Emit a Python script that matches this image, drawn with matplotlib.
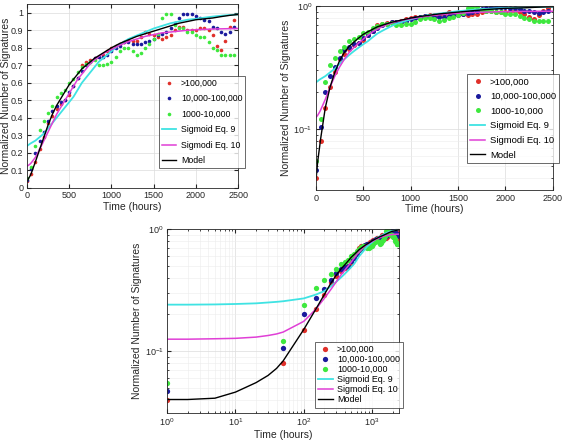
import numpy as np
import matplotlib
matplotlib.use('Agg')
import matplotlib.pyplot as plt

plt.rcParams['font.family'] = ['Liberation Sans', 'DejaVu Sans']

# sample times (hours); first sample drawn at 1 so it shows on log axis
t_pts = [1] + list(range(50, 2451, 50))

big = [0.04, 0.08, 0.15, 0.22, 0.29, 0.37, 0.41, 0.45, 0.48, 0.50,
       0.53, 0.58, 0.63, 0.70, 0.72, 0.73, 0.74, 0.75, 0.76, 0.78,
       0.80, 0.81, 0.82, 0.83, 0.84, 0.84, 0.84, 0.86, 0.89, 0.88,
       0.87, 0.86, 0.85, 0.86, 0.87, 0.90, 0.92, 0.92, 0.90, 0.90,
       0.90, 0.91, 0.91, 0.90, 0.87, 0.81, 0.79, 0.84, 0.92, 0.96]
mid = [0.047, 0.105, 0.20, 0.27, 0.32, 0.38, 0.44, 0.47, 0.49, 0.50,
       0.55, 0.58, 0.63, 0.67, 0.70, 0.72, 0.74, 0.75, 0.75, 0.76,
       0.78, 0.80, 0.81, 0.83, 0.83, 0.82, 0.82, 0.82, 0.83, 0.84,
       0.85, 0.87, 0.88, 0.89, 0.91, 0.94, 0.97, 0.99, 0.99, 0.99,
       0.98, 0.97, 0.96, 0.95, 0.92, 0.91, 0.89, 0.88, 0.89, 0.92]
small = [0.055, 0.12, 0.24, 0.33, 0.38, 0.43, 0.47, 0.52, 0.54, 0.56,
         0.60, 0.62, 0.66, 0.69, 0.71, 0.72, 0.73, 0.70, 0.70, 0.71,
         0.72, 0.75, 0.78, 0.80, 0.80, 0.78, 0.76, 0.77, 0.80, 0.82,
         0.85, 0.88, 0.97, 0.99, 0.99, 0.93, 0.91, 0.91, 0.89, 0.89,
         0.87, 0.86, 0.86, 0.83, 0.80, 0.79, 0.76, 0.76, 0.76, 0.76]

t_line = [1, 2, 5, 10, 20, 30, 40] + list(range(50, 1001, 50)) + list(range(1100, 2501, 100))
model = [0.040, 0.040, 0.041, 0.046, 0.055, 0.063, 0.072,
         0.083, 0.15, 0.22, 0.29, 0.36, 0.42, 0.47, 0.51, 0.55, 0.59,
         0.62, 0.65, 0.68, 0.70, 0.72, 0.74, 0.755, 0.77, 0.785, 0.80,
         0.825, 0.845, 0.865, 0.88, 0.895, 0.91, 0.925, 0.94, 0.95, 0.96,
         0.965, 0.97, 0.978, 0.985, 0.99]
sig9 = [0.24, 0.24, 0.241, 0.243, 0.246, 0.25, 0.253,
        0.256, 0.27, 0.29, 0.31, 0.34, 0.37, 0.40, 0.43, 0.46, 0.49,
        0.52, 0.56, 0.60, 0.63, 0.66, 0.69, 0.72, 0.74, 0.76, 0.78,
        0.82, 0.85, 0.87, 0.89, 0.91, 0.925, 0.94, 0.95, 0.96, 0.965,
        0.972, 0.978, 0.983, 0.987, 0.99]
sig10 = [0.125, 0.125, 0.126, 0.127, 0.13, 0.134, 0.138,
         0.143, 0.175, 0.22, 0.27, 0.32, 0.37, 0.42, 0.46, 0.50, 0.54,
         0.58, 0.62, 0.65, 0.68, 0.71, 0.73, 0.75, 0.765, 0.78, 0.79,
         0.815, 0.835, 0.85, 0.865, 0.875, 0.885, 0.89, 0.895, 0.90, 0.903,
         0.905, 0.907, 0.908, 0.909, 0.91]

c_red = '#e0302a'
c_blue = '#1a1a9c'
c_green = '#3ee83e'
c_cyan = '#3fe3e3'
c_mag = '#e03fd6'

fig = plt.figure(figsize=(5.63, 4.41), dpi=100)

def draw(ax, ms, leg_fs, leg_anchor, leg_space, lpad=2):
    ax.plot(t_pts, big, 'o', ms=ms, mew=0, color=c_red, label='>100,000')
    ax.plot(t_pts, mid, 'o', ms=ms, mew=0, color=c_blue, label='10,000-100,000')
    ax.plot(t_pts, small, 'o', ms=ms, mew=0, color=c_green, label='1000-10,000')
    ax.plot(t_line, sig9, '-', lw=1.3, color=c_cyan, label='Sigmoid Eq. 9')
    ax.plot(t_line, sig10, '-', lw=1.1, color=c_mag, label='Sigmodi Eq. 10')
    ax.plot(t_line, model, '-', lw=1.0, color='black', label='Model')
    ax.tick_params(direction='in', which='both', top=True, right=True,
                   labelsize=6.5, colors='#262626', length=3, pad=2.5)
    ax.tick_params(which='minor', length=1.5)
    ax.set_xlabel('Time (hours)', fontsize=7.5, color='#262626', labelpad=1)
    ax.set_ylabel('Normalized Number of Signatures', fontsize=7.5, color='#262626', labelpad=lpad)
    for s in ax.spines.values():
        s.set_linewidth(0.6)
        s.set_color('#262626')
    ax.grid(True, which='major', color='#dcdcdc', lw=0.5)
    leg = ax.legend(loc='upper left', bbox_to_anchor=leg_anchor, fontsize=leg_fs,
                    frameon=True, fancybox=False, edgecolor='#262626',
                    labelspacing=leg_space, handlelength=1.6, handletextpad=0.5,
                    borderpad=0.35, borderaxespad=0)
    leg.get_frame().set_linewidth(0.6)
    return ax

# top-left: linear
ax1 = fig.add_axes([0.048, 0.574, 0.375, 0.417])
draw(ax1, 2.6, 6.3, (0.627, 0.611), 0.75, lpad=0)
ax1.set_xlim(0, 2500)
ax1.set_ylim(0, 1.05)
ax1.set_xticks(np.arange(0, 2501, 500))
ax1.set_yticks(np.arange(0, 1.01, 0.1))
ax1.set_yticklabels(['0', '0.1', '0.2', '0.3', '0.4', '0.5', '0.6', '0.7', '0.8', '0.9', '1'])

# top-right: semilog y
ax2 = fig.add_axes([0.561, 0.569, 0.421, 0.417])
draw(ax2, 3.6, 6.8, (0.637, 0.631), 0.6)
ax2.set_yscale('log')
ax2.set_xlim(0, 2500)
ax2.set_ylim(0.032, 1.0)
ax2.set_xticks(np.arange(0, 2501, 500))
ax2.grid(True, which='minor', axis='y', color='#ececec', lw=0.4)

# bottom: log-log
ax3 = fig.add_axes([0.297, 0.0635, 0.412, 0.417])
draw(ax3, 3.8, 6.4, (0.638, 0.386), 0.12)
ax3.set_xscale('log')
ax3.set_yscale('log')
ax3.set_xlim(1, 2500)
ax3.set_ylim(0.031, 1.0)
ax3.grid(True, which='minor', color='#ececec', lw=0.4)

fig.savefig('out.png', dpi=100)
